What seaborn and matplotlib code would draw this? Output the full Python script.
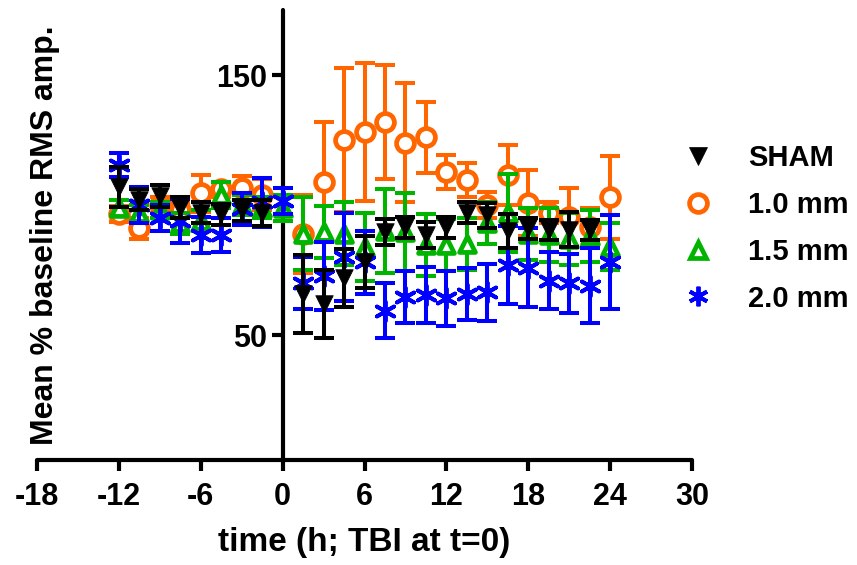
import numpy as np
import pandas as pd
import matplotlib
matplotlib.use("Agg")
import matplotlib.pyplot as plt
import seaborn as sns
from matplotlib.lines import Line2D

# --- data (mean % baseline RMS amp., +/- error) ---
t_pre = [-12, -10.5, -9, -7.5, -6, -4.5, -3, -1.5]
t_pre0 = [-12, -10.5, -9, -7.5, -6, -4.5, -3, -1.5, 0]
t_post = [1.5, 3, 4.5, 6, 7.5, 9, 10.5, 12, 13.5, 15, 16.5, 18, 19.5, 21, 22.5, 24]

sham_t = t_pre + t_post[:-1]
sham_y = [107, 102, 103.5, 99, 97, 96.5, 98, 97,
          66, 62, 72, 78, 89.6, 91.5, 88.5, 91.5, 97, 96, 90, 91, 90.4, 90.6, 90.4]
sham_e = [7.7, 4, 4.4, 4, 4, 4, 4, 5,
          15, 13, 11, 10, 5, 4, 5, 4, 4, 4.8, 6.4, 4, 4, 6.7, 4]

mm10_t = t_pre + t_post
mm10_y = [96.5, 91, 100, 98, 104.5, 106, 106.5, 104,
          89, 108.8, 125, 128, 132, 124, 126, 112.7, 109.6, 100, 111.5, 100.8, 97, 95.4, 91.5, 103]
mm10_e = [3, 4, 3, 3, 7, 3, 4.5, 6,
          15, 23, 27.7, 26.5, 22, 23, 13.6, 6.4, 6.5, 5, 11.5, 12.7, 4, 11, 7.5, 16]

mm15_t = t_pre0 + t_post
mm15_y = [99, 97, 98, 93, 94, 104, 100, 99, 99,
          89, 89.6, 89, 84, 90, 89.6, 84.6, 84.6, 85, 93, 97, 89, 88.5, 87, 88, 84]
mm15_e = [3, 3, 3, 4, 4, 5, 4, 4, 5,
          14, 10, 12, 13, 16, 15, 12, 10, 10, 8, 15, 10, 10.5, 10, 10, 9]

mm20_t = t_pre0 + t_post
mm20_y = [115.4, 100, 95, 94, 88.5, 88.5, 98.5, 101, 101.5,
          70, 72.7, 80, 78, 59.4, 64.8, 65.4, 64.2, 66, 66.5, 77, 76, 71, 70, 69, 78]
mm20_e = [4.6, 7, 5, 8.5, 7, 6.5, 6, 9.5, 5,
          10, 13, 17, 12, 10.6, 10, 10.8, 10.6, 10, 11, 15, 15, 11, 11.3, 14.4, 18]

groups = ["SHAM", "1.0 mm", "1.5 mm", "2.0 mm"]
colors = {"SHAM": "black", "1.0 mm": "#FF6600", "1.5 mm": "#00B400", "2.0 mm": "#0000FF"}

frames = []
for g, t, y, e in [("SHAM", sham_t, sham_y, sham_e), ("1.0 mm", mm10_t, mm10_y, mm10_e),
                   ("1.5 mm", mm15_t, mm15_y, mm15_e), ("2.0 mm", mm20_t, mm20_y, mm20_e)]:
    frames.append(pd.DataFrame({"group": g, "time": t, "amp": y, "err": e}))
df = pd.concat(frames, ignore_index=True)

sns.set_style("ticks")
plt.rcParams["font.family"] = ["Liberation Sans", "DejaVu Sans"]
plt.rcParams["font.weight"] = "bold"
plt.rcParams["axes.unicode_minus"] = False
plt.rcParams["text.color"] = "black"
plt.rcParams["axes.labelcolor"] = "black"
plt.rcParams["xtick.color"] = "black"
plt.rcParams["ytick.color"] = "black"
plt.rcParams["axes.edgecolor"] = "black"

fig = plt.figure(figsize=(8.57, 5.65), dpi=100)
ax = fig.add_axes([37 / 857, 1 - 460 / 565, 655 / 857, 450 / 565])

# marker styles per group
styles = {
    "SHAM": dict(marker="v", s=160, facecolor="black", edgecolor="black", linewidth=0.5),
    "1.0 mm": dict(marker="o", s=165, facecolor="white", edgecolor="#FF6600", linewidth=3.4),
    "1.5 mm": dict(marker="^", s=130, facecolor="white", edgecolor="#00B400", linewidth=3.4),
    "2.0 mm": dict(marker=(6, 2, 0), s=200, facecolor="#0000FF", edgecolor="#0000FF", linewidth=2.8),
}
order = ["1.0 mm", "1.5 mm", "2.0 mm", "SHAM"]
for i, g in enumerate(order):
    d = df[df["group"] == g]
    ax.errorbar(d["time"], d["amp"], yerr=d["err"], fmt="none", ecolor=colors[g],
                elinewidth=2.9, capsize=7, capthick=2.9, zorder=2 + 2 * i)
    sns.scatterplot(data=d, x="time", y="amp", ax=ax, zorder=3 + 2 * i,
                    legend=False, **styles[g])

ax.set_xlim(-18, 30)
ax.set_ylim(2, 175)
ax.set_xticks(range(-18, 31, 6))
ax.set_yticks([50, 150])
ax.spines["left"].set_position(("data", 0))
ax.spines["top"].set_visible(False)
ax.spines["right"].set_visible(False)
for s in ["left", "bottom"]:
    ax.spines[s].set_linewidth(3)
    ax.spines[s].set_color("black")
    ax.spines[s].set_capstyle("round")
ax.tick_params(axis="both", width=3, length=8, labelsize=22, direction="out", colors="black")
ax.tick_params(axis="x", pad=8)
ax.set_xlabel("time (h; TBI at t=0)", fontsize=24, fontweight="bold", labelpad=11, color="black")
ax.set_ylabel("Mean % baseline RMS amp.", fontsize=23, fontweight="bold", color="black")
ax.yaxis.set_label_coords(0.035, 0.5, transform=ax.transAxes)
for lab in ax.get_xticklabels() + ax.get_yticklabels():
    lab.set_fontweight("bold")

handles = []
for g in groups:
    st = styles[g]
    handles.append(Line2D([], [], linestyle="none", marker=st["marker"],
                          markersize=np.sqrt(st["s"]), markerfacecolor=st["facecolor"],
                          markeredgecolor=st["edgecolor"], markeredgewidth=st["linewidth"]))
fig.legend(handles, groups, loc="center left", bbox_to_anchor=(0.764, 0.596),
           frameon=False, handlelength=1.2, handletextpad=1.1,
           labelspacing=0.65, prop={"weight": "bold", "size": 21})

fig.savefig("out.png", dpi=100)
